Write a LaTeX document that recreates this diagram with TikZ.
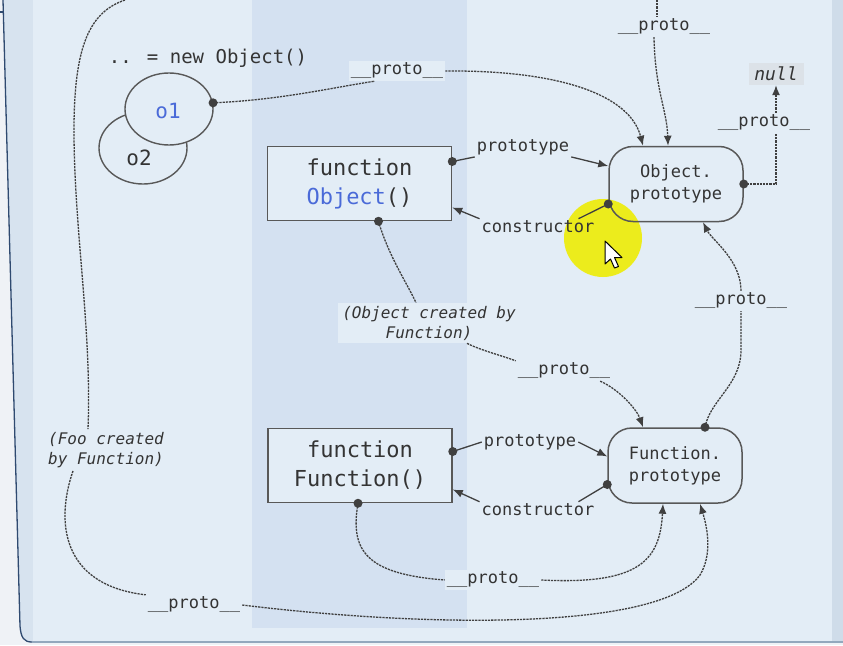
\documentclass[tikz,border=0pt]{standalone}
\usepackage{fontspec}
\newfontfamily\mono{DejaVu Sans Mono}
\usetikzlibrary{arrows.meta,calc,shapes.geometric}
\definecolor{pagebg}{HTML}{EFF2F6}
\definecolor{bgmain}{HTML}{E3EDF6}
\definecolor{stripL}{HTML}{D7E3EF}
\definecolor{stripR}{HTML}{CFDCE9}
\definecolor{band}{HTML}{D4E1F1}
\definecolor{frameline}{HTML}{2F4A70}
\definecolor{bottomline}{HTML}{93A8BD}
\definecolor{linec}{HTML}{404040}
\definecolor{boxgray}{HTML}{585858}
\definecolor{txt}{HTML}{343434}
\definecolor{kwblue}{HTML}{4A6AD8}
\definecolor{nullbg}{HTML}{DCE2E8}
\definecolor{hiyellow}{HTML}{ECEC1C}
\tikzset{
  fbox/.style={draw=boxgray, line width=1.5pt, fill=bgmain, minimum width=184pt, minimum height=74pt,
    align=center, text=txt, font=\mono\fontsize{22}{29}\selectfont, inner sep=0pt},
  pbox/.style={draw=boxgray, line width=1.5pt, rounded corners=24pt, minimum width=134pt, minimum height=75pt,
    align=center, text=txt, font=\mono\fontsize{17}{22}\selectfont, inner sep=0pt},
  objell/.style={ellipse, draw=boxgray, line width=1.4pt, fill=bgmain, minimum width=88pt, minimum height=72pt, inner sep=0pt},
  lbl/.style={font=\mono\fontsize{17}{20}\selectfont, text=txt, inner sep=2pt},
  lblbg/.style={lbl, fill=bgmain},
  note/.style={font=\mono\itshape\fontsize{16}{20}\selectfont, text=txt, align=center, inner sep=3pt},
  protoline/.style={draw=linec, line width=1.3pt, dash pattern=on 2.2pt off 1pt},
  solidline/.style={draw=linec, line width=1.3pt},
  tipped/.style={-{Latex[length=10pt,width=8pt]}},
  dotmark/.style={fill=linec},
}
\begin{document}
\begin{tikzpicture}[x=1pt,y=-1pt]
\useasboundingbox (0,0) rectangle (843,645);
% ---------- background ----------
\fill[pagebg] (0,0) rectangle (843,645);
\fill[stripL] (3,0) -- (20,626) .. controls (21,638) and (24,642) .. (32,642) -- (843,642) -- (843,0) -- cycle;
\fill[bgmain] (33,0) rectangle (832,642);
\fill[stripR] (832,0) rectangle (843,642);
\fill[band] (252,0) rectangle (467,628);
\draw[frameline, line width=1.3pt] (3,0) -- (20,626) .. controls (21,638) and (24,642) .. (32,642);
\draw[bottomline, line width=2pt] (32,642) -- (843,642);
\draw[frameline, line width=1.2pt] (0,12) -- (4,12);
% ---------- highlight ----------
\fill[hiyellow] (603,238) circle (39pt);
% ---------- nodes ----------
\node[objell] (o2) at (143,148) {};
\node[objell] (o1) at (169,109) {};
\node[font=\mono\fontsize{21}{24}\selectfont, text=kwblue] (o1t) at (168,111) {o1};
\node[font=\mono\fontsize{21}{24}\selectfont, text=txt] (o2t) at (139,158) {o2};
\node[font=\mono\fontsize{19}{22}\selectfont, text=txt] (newobj) at (208,58) {.. = new Object()};

\node[fbox] (fObj) at (359.5,183.5) {function\\\textcolor{kwblue}{Object}()};
\node[fbox] (fFun) at (360,465.5) {function\\Function()};
\node[pbox] (OP) at (676,184) {Object.\\prototype};
\node[pbox] (FP) at (675,465.5) {Function.\\prototype};
\node[font=\mono\itshape\fontsize{18}{20}\selectfont, text=txt, fill=nullbg, minimum width=55pt, minimum height=22pt, inner sep=0pt] (null) at (776,74) {null};

% labels
\node[lblbg] (lblA) at (397,71) {\_\_proto\_\_};
\node[lblbg] (lblT) at (664,27) {\_\_proto\_\_};
\node[lblbg] (lblN) at (764,123) {\_\_proto\_\_};
\node[lbl] (lblPo1) at (523,147) {prototype};
\node[lbl] (lblCo1) at (538,227) {constructor};
\node[note, fill=bgmain, minimum width=183pt, minimum height=40pt] (lblOC) at (429,323) {(Object created by\\Function)};
\node[lblbg] (lblP3) at (564,371) {\_\_proto\_\_};
\node[lblbg] (lblP4) at (741,301) {\_\_proto\_\_};
\node[lbl] (lblPo2) at (530,442) {prototype};
\node[lbl] (lblCo2) at (538,510) {constructor};
\node[lblbg] (lblP5) at (493,580) {\_\_proto\_\_};
\node[note, fill=bgmain] (lblFoo) at (106,450) {(Foo created\\by Function)};
\node[lblbg] (lblP2) at (194,605) {\_\_proto\_\_};

\coordinate (topsrc) at (657,0);
\coordinate (foosrc) at (125,0);

% dot anchor points
\coordinate (dA) at (o1.8);
\coordinate (dB) at ($(fObj.east)+(0,-22)$);
\coordinate (dC) at ($(OP.west)+(0,20)$);
\coordinate (dD) at (OP.east);
\coordinate (dE) at ($(fObj.south)+(19,0)$);
\coordinate (dF) at ($(FP.north)+(30,0)$);
\coordinate (dG) at ($(fFun.east)+(0,-14)$);
\coordinate (dH) at ($(FP.west)+(0,19)$);
\coordinate (dI) at ($(fFun.south)+(-2,0)$);

% ---------- connectors ----------
% o1 -> Object.prototype
\draw[protoline] (dA) .. controls (280,100) and (330,88) .. ($(lblA.south west)+(26,0)$);
\draw[protoline,tipped] (lblA.east) .. controls (560,70) and (630,95) .. ($(OP.north)+(-33,0)$);
% from above -> Object.prototype
\draw[protoline] (topsrc) -- ($(lblT.north)+(-7,0)$);
\draw[protoline,tipped] ($(lblT.south)+(-10,0)$) .. controls (655,90) and (667,110) .. ($(OP.north)+(-8,0)$);
% Object.prototype -> null
\draw[protoline] (dD) -| ($(lblN.south)+(12,0)$);
\draw[protoline,tipped] ($(lblN.north)+(12,0)$) -- (null.south);
% Object(): prototype / constructor
\draw[solidline] (dB) -- (lblPo1.south west);
\draw[solidline,tipped] (lblPo1.south east) -- ($(OP.west)+(0,-18)$);
\draw[solidline] (dC) -- ($(lblCo1.north east)+(-18,0)$);
\draw[solidline,tipped] (lblCo1.north west) -- ($(fObj.east)+(0,24)$);
% Object() created by Function
\draw[protoline] (dE) .. controls (388,255) and (408,285) .. ($(lblOC.north)+(-13,0)$);
\draw[protoline] ($(lblOC.south)+(38,0)$) .. controls (480,350) and (500,355) .. (lblP3.north west);
\draw[protoline,tipped] ($(lblP3.south east)+(-12,0)$) .. controls (620,390) and (637,410) .. ($(FP.north)+(-32,0)$);
% Function.prototype -> Object.prototype
\draw[protoline] (dF) .. controls (710,400) and (741,385) .. (741,350) -- (lblP4.south);
\draw[protoline,tipped] (lblP4.north) .. controls (741,260) and (712,240) .. ($(OP.south)+(27,0)$);
% Function(): prototype / constructor
\draw[solidline] (dG) -- (lblPo2.west);
\draw[solidline,tipped] (lblPo2.east) -- ($(FP.west)+(0,-9)$);
\draw[solidline] (dH) -- ($(lblCo2.north east)+(-18,0)$);
\draw[solidline,tipped] (lblCo2.north west) -- ($(fFun.east)+(0,24)$);
% Function() -> Function.prototype
\draw[protoline] (dI) .. controls (350,550) and (365,574) .. (lblP5.west);
\draw[protoline,tipped] (lblP5.east) .. controls (640,585) and (660,560) .. ($(FP.south)+(-12,0)$);
% Foo -> Function.prototype
\draw[protoline] (foosrc) .. controls (90,12) and (74,45) .. (74,130) .. controls (74,230) and (92,330) .. ($(lblFoo.north)+(-18,0)$);
\draw[protoline] ($(lblFoo.south)+(-33,0)$) .. controls (56,520) and (60,585) .. (lblP2.north west);
\draw[protoline,tipped] (lblP2.east) .. controls (430,628) and (660,630) .. (700,575) .. controls (712,555) and (708,530) .. ($(FP.south)+(25,0)$);

% ---------- dots ----------
\foreach \p in {dA,dB,dC,dD,dE,dF,dG,dH,dI}
  \fill[dotmark] (\p) circle (4.5pt);

% ---------- cursor ----------
\draw[black, fill=white, line width=1pt, line join=round]
  (605,241) -- (605,264) -- (610.5,259) -- (614.5,268) -- (618.5,266.5) -- (614.5,257.5) -- (622,257.5) -- cycle;
\end{tikzpicture}
\end{document}
